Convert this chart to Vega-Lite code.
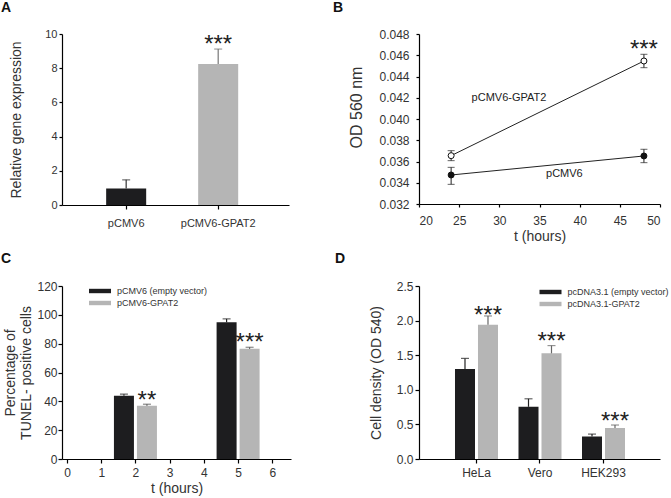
{
  "$schema": "https://vega.github.io/schema/vega-lite/v6.json",
  "padding": {"left": 1, "top": 1, "right": 5, "bottom": 5},
  "background": "white",
  "columns": 2,
  "spacing": {"row": 81, "column": 128},
  "bounds": "flush",
  "align": "each",
  "resolve": {"scale": {"color": "independent", "fill": "independent", "stroke": "independent"}, "legend": {"color": "independent"}},
  "concat": [
    {
      "width": 227,
      "height": 171,
      "title": {"text": "A", "anchor": "start", "frame": "group", "dx": -61, "offset": 2, "baseline": "alphabetic", "fontSize": 14, "fontWeight": "bold", "color": "#111"},
      "data": {"values": [
        {"construct": "pCMV6", "expression": 0.97, "upper": 1.47},
        {"construct": "pCMV6-GPAT2", "expression": 8.25, "upper": 9.12}
      ]},
      "encoding": {
        "x": {"field": "construct", "type": "nominal", "sort": ["pCMV6", "pCMV6-GPAT2"],
          "scale": {"paddingInner": 0.565, "paddingOuter": 0.516, "align": 0.465},
          "axis": {"title": null, "labelAngle": 0, "labelFontSize": 11, "tickSize": 4, "labelPadding": 8, "labelOverlap": false}}
      },
      "layer": [
        {"mark": {"type": "bar"},
         "encoding": {
           "y": {"field": "expression", "type": "quantitative", "title": "Relative gene expression",
             "scale": {"domain": [0, 10], "nice": false},
             "axis": {"values": [0, 2, 4, 6, 8, 10], "tickCount": 30, "format": "d", "labelFontSize": 11, "tickSize": 3, "labelPadding": 2, "titlePadding": 21, "labelOverlap": false}},
           "color": {"field": "construct", "type": "nominal", "scale": {"domain": ["pCMV6", "pCMV6-GPAT2"], "range": ["#1d1d1f", "#b5b5b5"]}, "legend": null}}},
        {"mark": {"type": "rule", "strokeWidth": 1.2, "color": {"expr": "datum.construct === 'pCMV6-GPAT2' ? '#777777' : '#333333'"}},
         "encoding": {
           "y": {"field": "expression", "type": "quantitative", "title": "Relative gene expression"},
           "y2": {"field": "upper"}}},
        {"mark": {"type": "tick", "orient": "horizontal", "size": 8, "thickness": 1.2, "color": {"expr": "datum.construct === 'pCMV6-GPAT2' ? '#777777' : '#333333'"}},
         "encoding": {
           "y": {"field": "upper", "type": "quantitative", "title": "Relative gene expression"}}},
        {"data": {"values": [{"construct": "pCMV6-GPAT2", "level": 8.95, "label": "***"}]},
         "mark": {"type": "text", "fontSize": 24, "baseline": "alphabetic", "color": "#222"},
         "encoding": {
           "y": {"field": "level", "type": "quantitative", "title": "Relative gene expression"},
           "text": {"field": "label"}}}
      ]
    },
    {
      "width": 241,
      "height": 170,
      "title": {"text": "B", "anchor": "start", "frame": "group", "dx": -86, "offset": 2, "baseline": "alphabetic", "fontSize": 14, "fontWeight": "bold", "color": "#111"},
      "data": {"values": [
        {"t": 24, "series": "pCMV6-GPAT2", "od": 0.03655, "lo": 0.03608, "hi": 0.03702},
        {"t": 48, "series": "pCMV6-GPAT2", "od": 0.04546, "lo": 0.04483, "hi": 0.04609},
        {"t": 24, "series": "pCMV6", "od": 0.03473, "lo": 0.03385, "hi": 0.03545},
        {"t": 48, "series": "pCMV6", "od": 0.03652, "lo": 0.03589, "hi": 0.03715}
      ]},
      "encoding": {
        "x": {"field": "t", "type": "quantitative", "title": "t (hours)",
          "scale": {"domain": [20, 50], "nice": false},
          "axis": {"values": [20, 25, 30, 35, 40, 45, 50], "tickCount": 30, "format": "d", "tickSize": 3, "labelPadding": 8, "titlePadding": 3, "labelOverlap": false}}
      },
      "layer": [
        {"mark": {"type": "line", "color": "#222", "strokeWidth": 1},
         "encoding": {
           "y": {"field": "od", "type": "quantitative", "title": "OD 560 nm",
             "scale": {"domain": [0.032, 0.048], "nice": false, "zero": false},
             "axis": {"values": [0.032, 0.034, 0.036, 0.038, 0.04, 0.042, 0.044, 0.046, 0.048], "tickCount": 30, "format": ".3f", "tickSize": 3, "labelPadding": 7, "titlePadding": 14, "titleFontSize": 16, "titleY": 73, "labelOverlap": false}},
           "detail": {"field": "series"}}},
        {"mark": {"type": "rule", "color": "#222", "strokeWidth": 1},
         "encoding": {
           "y": {"field": "lo", "type": "quantitative", "title": "OD 560 nm"},
           "y2": {"field": "hi"}}},
        {"mark": {"type": "tick", "orient": "horizontal", "size": 7, "thickness": 1, "color": "#222"},
         "encoding": {"y": {"field": "lo", "type": "quantitative", "title": "OD 560 nm"}}},
        {"mark": {"type": "tick", "orient": "horizontal", "size": 7, "thickness": 1, "color": "#222"},
         "encoding": {"y": {"field": "hi", "type": "quantitative", "title": "OD 560 nm"}}},
        {"mark": {"type": "point", "shape": "circle", "filled": true, "size": 36, "stroke": "#111", "strokeWidth": 1, "opacity": 1,
           "fill": {"expr": "datum.series === 'pCMV6-GPAT2' ? '#ffffff' : '#111111'"}},
         "encoding": {
           "y": {"field": "od", "type": "quantitative", "title": "OD 560 nm"}}},
        {"data": {"values": [
            {"t": 31.2, "od": 0.0420, "label": "pCMV6-GPAT2"},
            {"t": 38.1, "od": 0.0348, "label": "pCMV6"}
          ]},
         "mark": {"type": "text", "fontSize": 11, "baseline": "middle", "color": "#222"},
         "encoding": {
           "y": {"field": "od", "type": "quantitative", "title": "OD 560 nm"},
           "text": {"field": "label"}}},
        {"data": {"values": [{"t": 48, "od": 0.04585, "label": "***"}]},
         "mark": {"type": "text", "fontSize": 24, "baseline": "alphabetic", "color": "#222"},
         "encoding": {
           "y": {"field": "od", "type": "quantitative", "title": "OD 560 nm"},
           "text": {"field": "label"}}}
      ]
    },
    {
      "width": 229,
      "height": 173,
      "title": {"text": "C", "anchor": "start", "frame": "group", "dx": -61, "offset": 3, "baseline": "alphabetic", "fontSize": 14, "fontWeight": "bold", "color": "#111"},
      "data": {"values": [
        {"t": 2, "series": "pCMV6 (empty vector)", "pct": 43.8, "upper": 45.0},
        {"t": 2, "series": "pCMV6-GPAT2", "pct": 36.9, "upper": 38.0},
        {"t": 5, "series": "pCMV6 (empty vector)", "pct": 94.8, "upper": 97.2},
        {"t": 5, "series": "pCMV6-GPAT2", "pct": 76.4, "upper": 77.5}
      ]},
      "encoding": {
        "x": {"field": "t", "type": "quantitative", "title": "t (hours)",
          "scale": {"domain": [0, 6.4], "nice": false},
          "axis": {"values": [0, 1, 2, 3, 4, 5, 6], "tickCount": 30, "format": "d", "tickSize": 4, "labelPadding": 4, "titlePadding": 3, "labelOverlap": false}}
      },
      "layer": [
        {"mark": {"type": "bar", "width": 20, "xOffset": {"expr": "datum.series === 'pCMV6-GPAT2' ? 11.5 : -11.5"}},
         "encoding": {
           "y": {"field": "pct", "type": "quantitative", "stack": null, "title": ["Percentage of", "TUNEL- positive cells"],
             "scale": {"domain": [0, 120], "nice": false},
             "axis": {"values": [0, 20, 40, 60, 80, 100, 120], "tickCount": 30, "format": "d", "tickSize": 4, "labelPadding": 1, "titlePadding": 3, "titleLineHeight": 16.5, "labelOverlap": false}},
           "color": {"field": "series", "type": "nominal",
             "scale": {"domain": ["pCMV6 (empty vector)", "pCMV6-GPAT2"], "range": ["#1d1d1f", "#b5b5b5"]},
             "legend": {"orient": "none", "legendX": 32.5, "legendY": -0.5, "direction": "vertical", "title": null,
               "symbolType": "M-2,-0.4H2V0.4H-2Z", "symbolSize": 121, "symbolStrokeWidth": 0,
               "labelFontSize": 9, "labelColor": "#333", "labelFont": "Liberation Sans", "labelOffset": 11.5, "rowPadding": 1, "padding": 0}}}},
        {"mark": {"type": "rule", "strokeWidth": 1.2, "color": {"expr": "datum.series === 'pCMV6-GPAT2' ? '#555555' : '#222222'"}, "xOffset": {"expr": "datum.series === 'pCMV6-GPAT2' ? 11.5 : -11.5"}},
         "encoding": {
           "y": {"field": "pct", "type": "quantitative", "title": ["Percentage of", "TUNEL- positive cells"]},
           "y2": {"field": "upper"}}},
        {"mark": {"type": "tick", "orient": "horizontal", "size": 8, "thickness": 1.2, "color": {"expr": "datum.series === 'pCMV6-GPAT2' ? '#555555' : '#222222'"}, "xOffset": {"expr": "datum.series === 'pCMV6-GPAT2' ? 11.5 : -11.5"}},
         "encoding": {
           "y": {"field": "upper", "type": "quantitative", "title": ["Percentage of", "TUNEL- positive cells"]}}},
        {"data": {"values": [
            {"t": 2, "level": 35.5, "label": "**"},
            {"t": 5, "level": 75.5, "label": "***"}
          ]},
         "mark": {"type": "text", "fontSize": 24, "baseline": "alphabetic", "color": "#222", "xOffset": 11.5},
         "encoding": {
           "y": {"field": "level", "type": "quantitative", "title": ["Percentage of", "TUNEL- positive cells"]},
           "text": {"field": "label"}}}
      ]
    },
    {
      "width": 241,
      "height": 173,
      "title": {"text": "D", "anchor": "start", "frame": "group", "dx": -84, "offset": 3, "baseline": "alphabetic", "fontSize": 14, "fontWeight": "bold", "color": "#111"},
      "data": {"values": [
        {"cell": "HeLa", "series": "pcDNA3.1 (empty vector)", "density": 1.30, "upper": 1.454},
        {"cell": "HeLa", "series": "pcDNA3.1-GPAT2", "density": 1.94, "upper": 2.067},
        {"cell": "Vero", "series": "pcDNA3.1 (empty vector)", "density": 0.754, "upper": 0.87},
        {"cell": "Vero", "series": "pcDNA3.1-GPAT2", "density": 1.527, "upper": 1.639},
        {"cell": "HEK293", "series": "pcDNA3.1 (empty vector)", "density": 0.326, "upper": 0.36},
        {"cell": "HEK293", "series": "pcDNA3.1-GPAT2", "density": 0.447, "upper": 0.491}
      ]},
      "encoding": {
        "x": {"field": "cell", "type": "nominal", "sort": ["HeLa", "Vero", "HEK293"],
          "scale": {"paddingInner": 0.323, "paddingOuter": 0.559, "align": 0.507},
          "axis": {"title": null, "labelAngle": 0, "tickSize": 4, "labelPadding": 4, "labelOverlap": false}},
        "xOffset": {"field": "series", "type": "nominal",
          "scale": {"domain": ["pcDNA3.1 (empty vector)", "pcDNA3.1-GPAT2"], "paddingInner": 0.13, "paddingOuter": 0}}
      },
      "layer": [
        {"mark": {"type": "bar"},
         "encoding": {
           "y": {"field": "density", "type": "quantitative", "stack": null, "title": "Cell density (OD 540)",
             "scale": {"domain": [0, 2.5], "nice": false},
             "axis": {"values": [0, 0.5, 1, 1.5, 2, 2.5], "tickCount": 30, "format": ".1f", "tickSize": 4, "labelPadding": 2, "titlePadding": 13, "labelOverlap": false}},
           "color": {"field": "series", "type": "nominal",
             "scale": {"domain": ["pcDNA3.1 (empty vector)", "pcDNA3.1-GPAT2"], "range": ["#1d1d1f", "#b5b5b5"]},
             "legend": {"orient": "none", "legendX": 126, "legendY": 0.5, "direction": "vertical", "title": null,
               "symbolType": "M-2,-0.4H2V0.4H-2Z", "symbolSize": 121, "symbolStrokeWidth": 0,
               "labelFontSize": 9, "labelColor": "#333", "labelFont": "Liberation Sans", "labelOffset": 11.5, "rowPadding": 1, "padding": 0, "labelLimit": 200}}}},
        {"mark": {"type": "rule", "strokeWidth": 1.2, "color": {"expr": "datum.series === 'pcDNA3.1-GPAT2' ? '#666666' : '#222222'"}},
         "encoding": {
           "y": {"field": "density", "type": "quantitative", "title": "Cell density (OD 540)"},
           "y2": {"field": "upper"}}},
        {"mark": {"type": "tick", "orient": "horizontal", "size": 8, "thickness": 1.2, "color": {"expr": "datum.series === 'pcDNA3.1-GPAT2' ? '#666666' : '#222222'"}},
         "encoding": {
           "y": {"field": "upper", "type": "quantitative", "title": "Cell density (OD 540)"}}},
        {"data": {"values": [
            {"cell": "HeLa", "series": "pcDNA3.1-GPAT2", "level": 1.97, "label": "***"},
            {"cell": "Vero", "series": "pcDNA3.1-GPAT2", "level": 1.59, "label": "***"},
            {"cell": "HEK293", "series": "pcDNA3.1-GPAT2", "level": 0.44, "label": "***"}
          ]},
         "mark": {"type": "text", "fontSize": 24, "baseline": "alphabetic", "color": "#222"},
         "encoding": {
           "y": {"field": "level", "type": "quantitative", "title": "Cell density (OD 540)"},
           "text": {"field": "label"}}}
      ]
    }
  ],
  "config": {
    "font": "Liberation Sans",
    "view": {"stroke": null},
    "axis": {"domainColor": "#000", "tickColor": "#000", "labelColor": "#333", "titleColor": "#333",
      "labelFont": "Liberation Sans", "titleFont": "Liberation Sans", "labelFontSize": 12, "titleFontSize": 14,
      "titleFontWeight": "normal", "grid": false, "domainWidth": 1.2, "tickWidth": 1.2, "labelOverlap": false},
    "text": {"font": "Liberation Sans"},
    "title": {"font": "Liberation Sans"},
    "legend": {"labelFont": "Liberation Sans"}
  }
}
